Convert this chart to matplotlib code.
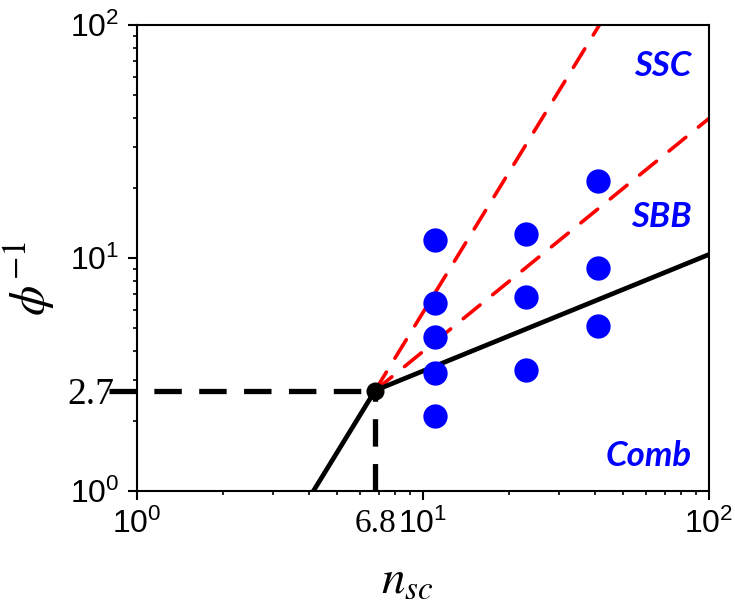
import numpy as np
import matplotlib.pyplot as plt
from matplotlib.ticker import LogLocator, NullFormatter

plt.rcParams['font.family'] = 'Liberation Sans'
plt.rcParams['mathtext.fontset'] = 'stix'

# crossover point between the regimes
n_c = 6.8
phi_c = 2.7

# measured data
n_data = [11, 11, 11, 11, 11, 23, 23, 23, 41, 41, 41]
phi_data = [11.9, 6.4, 4.6, 3.2, 2.1, 12.7, 6.8, 3.3, 21.3, 9.1, 5.1]

# scaling exponents of the boundaries
exp_low = 2.0      # below crossover
exp_comb = 0.5     # Comb / SBB boundary
exp_ssc = 2.0      # SBB / SSC boundary
exp_sbb = 1.0

regions = ['SSC', 'SBB', 'Comb']
region_y = [0.912, 0.588, 0.075]

fig = plt.figure(figsize=(7.35, 6.05), dpi=100)
ax = fig.add_axes([0.1864, 0.1884, 0.7782, 0.7703])
ax.set_xscale('log')
ax.set_yscale('log')
ax.set_xlim(1, 100)
ax.set_ylim(1, 100)

n_lo = np.array([1.0, n_c])
n_hi = np.array([n_c, 100.0])

ax.plot(n_hi, phi_c * (n_hi / n_c) ** exp_ssc, color='red', lw=2.6,
        dashes=(6, 4.5), dash_capstyle='round', zorder=2)
ax.plot(n_hi, phi_c * (n_hi / n_c) ** exp_sbb, color='red', lw=2.6,
        dashes=(6, 4.5), dash_capstyle='round', zorder=2)
ax.plot(n_lo, phi_c * (n_lo / n_c) ** exp_low, color='black', lw=3.4, zorder=3)
ax.plot(n_hi, phi_c * (n_hi / n_c) ** exp_comb, color='black', lw=3.4, zorder=3)

# guides to the crossover point
ax.plot([0.8, n_c], [phi_c, phi_c], color='black', lw=3.8, dashes=(5.2, 3.3),
        clip_on=False, zorder=3)
ax.plot([n_c, n_c], [1, phi_c], color='black', lw=3.8, dashes=(5.2, 3.3), zorder=3)

ax.plot(n_data, phi_data, 'o', color='blue', ms=17.5, mec='none', zorder=4)
ax.plot([n_c], [phi_c], 'o', color='black', ms=13, mec='none', zorder=5)

for name, yy in zip(regions, region_y):
    ax.text(0.97, yy, name, transform=ax.transAxes, ha='right', va='center',
            color='blue', fontsize=25, fontweight='bold', fontstyle='italic',
            family='Lato')

# ticks
ax.set_xticks([1, n_c, 10, 100])
ax.set_xticklabels([r'$\mathregular{10^{0}}$', '6.8', r'$\mathregular{10^{1}}$',
                    r'$\mathregular{10^{2}}$'])
ax.set_yticks([1, phi_c, 10, 100])
ax.set_yticklabels([r'$\mathregular{10^{0}}$', '2.7', r'$\mathregular{10^{1}}$',
                    r'$\mathregular{10^{2}}$'])
ax.xaxis.set_minor_locator(LogLocator(subs=np.arange(2, 10)))
ax.yaxis.set_minor_locator(LogLocator(subs=np.arange(2, 10)))
ax.xaxis.set_minor_formatter(NullFormatter())
ax.yaxis.set_minor_formatter(NullFormatter())
ax.tick_params(which='major', direction='out', length=6.5, width=1.5,
               labelsize=23, pad=6, top=False, right=False)
ax.tick_params(which='minor', direction='out', length=3, width=1.2,
               top=False, right=False)
for sp in ax.spines.values():
    sp.set_linewidth(1.5)

xt = ax.xaxis.get_major_ticks()[1]
xt.tick1line.set_visible(False)
xt.label1.set_fontfamily('Liberation Serif')
xt.label1.set_fontsize(24)
yt = ax.yaxis.get_major_ticks()[1]
yt.tick1line.set_visible(False)
yt.label1.set_fontfamily('Liberation Serif')
yt.label1.set_fontsize(27)
yt.set_pad(10)

ax.set_xlabel(r'$n_{sc}$', fontsize=34)
ax.set_ylabel(r'$\phi^{-1}$', fontsize=35)
ax.xaxis.set_label_coords(0.472, -0.145)
ax.yaxis.set_label_coords(-0.14, 0.455)

fig.savefig('out.png', dpi=100)
